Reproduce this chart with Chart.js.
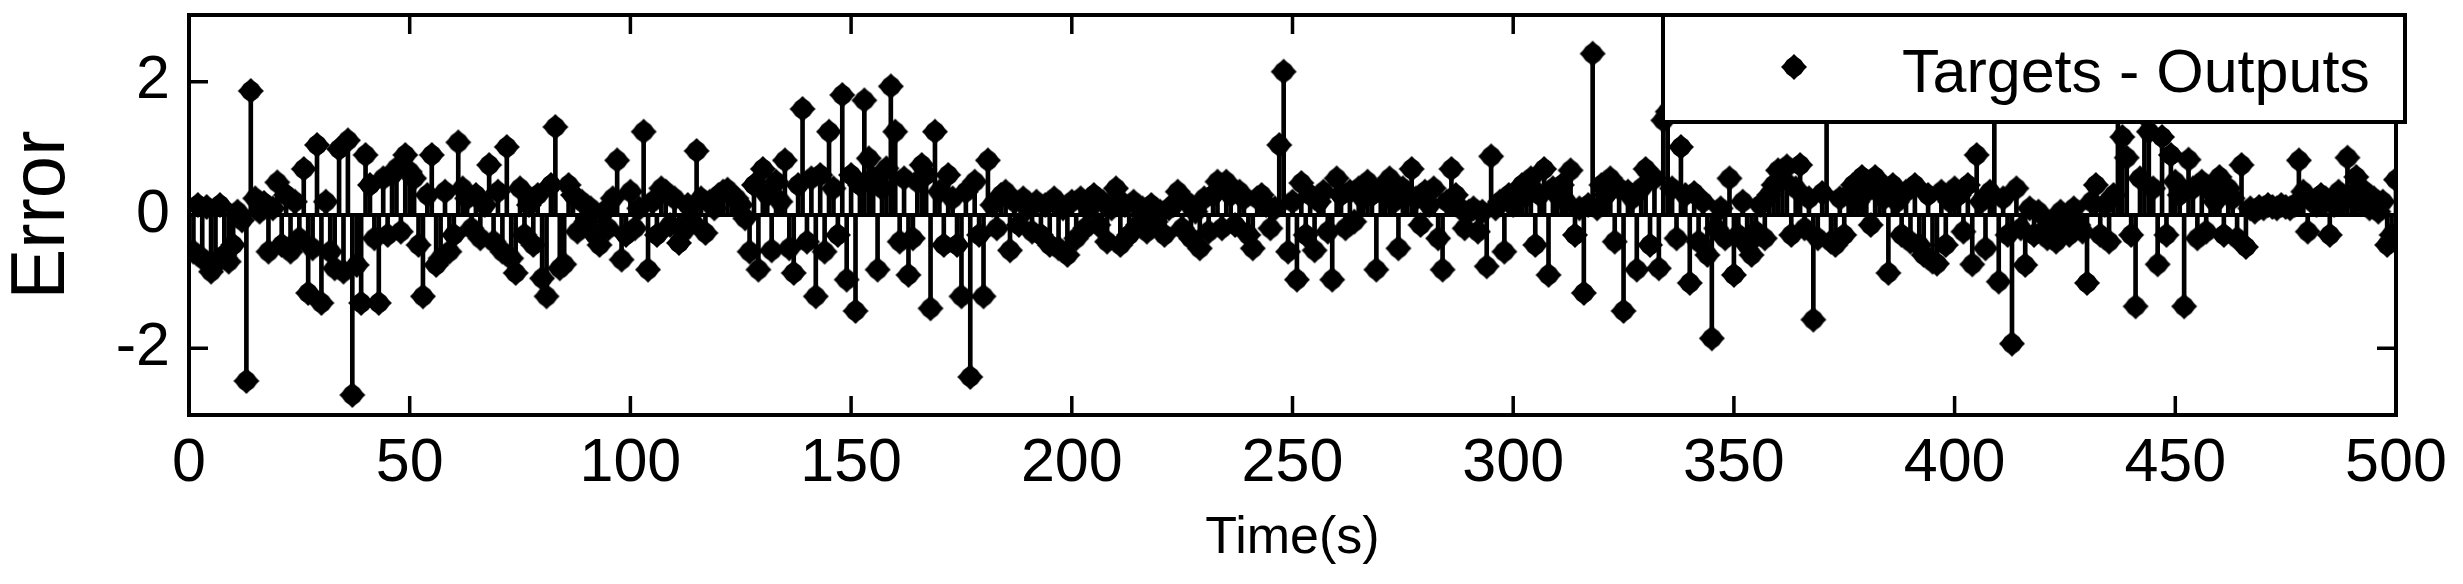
<!DOCTYPE html>
<html>
<head>
<meta charset="utf-8">
<title>Error</title>
<script src="https://cdn.jsdelivr.net/npm/chart.js@4.4.1/dist/chart.umd.min.js"></script>
<style>
  html, body { margin: 0; padding: 0; background: #fff; }
  #chart { display: block; }
</style>
</head>
<body>
<canvas id="chart" width="2463" height="584"></canvas>
<script>
// --- data (one value per second, t = 1..500) ---
const seriesLabel = "Targets - Outputs";
const xTitle = "Time(s)";
const yTitle = "Error";
const xTicks = [0, 50, 100, 150, 200, 250, 300, 350, 400, 450, 500];
const yTicks = [-2, 0, 2];
const firstTime = 1;

const errors = [
  -0.55, 0.15, -0.65, 0.12, -0.85, -0.72, 0.15, -0.60, -0.70, -0.45,
  0.05, -0.08, -2.49, 1.86, 0.25, 0.05, 0.18, -0.55, 0.10, 0.49,
  -0.45, 0.30, -0.55, 0.20, -0.35, 0.69, -1.17, -0.50, 1.05, -1.32,
  0.20, -0.55, -0.80, 0.99, -0.85, 1.12, -2.70, -0.75, -1.32, 0.90,
  0.45, -0.35, -1.32, 0.55, -0.30, 0.60, 0.70, -0.25, 0.90, 0.65,
  0.55, -0.45, -1.22, 0.30, 0.90, -0.75, -0.65, 0.35, -0.55, -0.30,
  1.09, 0.40, 0.25, -0.20, 0.30, -0.35, 0.15, 0.75, -0.40, 0.35,
  -0.55, 1.02, -0.65, -0.87, 0.40, -0.30, 0.15, -0.45, 0.30, -0.95,
  -1.22, 0.45, 1.32, -0.80, -0.74, 0.45, 0.30, -0.25, 0.20, -0.10,
  0.10, -0.30, -0.45, 0.05, -0.20, 0.25, 0.82, -0.67, -0.30, 0.35,
  -0.20, 0.10, 1.25, -0.82, 0.20, -0.30, 0.40, 0.35, -0.15, 0.25,
  -0.42, -0.25, 0.15, -0.10, 0.96, 0.25, -0.27, 0.20, 0.10, 0.30,
  0.35, 0.38, 0.30, 0.25, 0.15, -0.05, -0.55, 0.45, -0.82, 0.69,
  0.30, -0.53, 0.50, 0.20, 0.82, -0.50, -0.87, 0.45, 1.59, -0.40,
  0.55, -1.22, 0.60, -0.55, 1.25, 0.40, -0.30, 1.80, -0.97, 0.60,
  -1.44, 0.45, 1.72, 0.85, 0.55, -0.82, 0.40, 0.70, 1.93, 1.25,
  -0.40, 0.55, -0.90, -0.35, 0.50, 0.75, 0.60, -1.40, 1.25, 0.35,
  -0.45, 0.60, 0.25, -0.45, -1.22, 0.35, -2.43, 0.50, -0.30, -1.22,
  0.82, 0.15, -0.20, 0.30, 0.35, -0.53, 0.20, -0.15, 0.25, 0.10,
  -0.25, 0.20, -0.30, 0.15, -0.45, 0.25, -0.50, 0.10, -0.60, 0.20,
  -0.35, 0.25, -0.20, 0.10, 0.30, -0.15, 0.20, -0.40, 0.10, 0.40,
  -0.45, 0.15, -0.30, 0.20, -0.15, 0.10, -0.25, 0.15, -0.10, 0.05,
  -0.30, 0.10, 0.15, 0.35, -0.20, 0.20, -0.35, 0.05, -0.50, 0.25,
  -0.25, 0.30, 0.50, -0.20, 0.50, 0.30, -0.15, 0.35, 0.25, -0.30,
  -0.50, 0.25, 0.30, 0.15, -0.20, 0.10, 1.05, 2.15, -0.55, 0.20,
  -0.97, 0.48, -0.30, 0.30, -0.53, 0.20, 0.35, -0.25, -0.97, 0.55,
  0.30, -0.20, 0.35, -0.10, 0.40, 0.25, 0.50, 0.30, -0.82, 0.35,
  0.45, 0.55, 0.20, -0.50, 0.40, 0.30, 0.69, 0.25, -0.15, 0.35,
  0.15, 0.40, -0.35, -0.82, 0.20, 0.69, 0.30, 0.10, -0.20, 0.05,
  0.10, -0.25, 0.05, -0.77, 0.88, 0.10, 0.20, -0.55, 0.30, 0.15,
  0.35, 0.45, 0.30, 0.55, -0.45, 0.30, 0.69, -0.90, 0.40, 0.30,
  0.45, 0.20, 0.67, -0.30, 0.10, -1.17, 0.15, 2.42, 0.10, 0.45,
  0.30, 0.55, -0.40, 0.40, -1.44, 0.35, 0.25, -0.82, 0.40, 0.69,
  -0.45, 0.55, -0.80, 1.42, 1.55, 0.40, -0.35, 1.02, 0.30, -1.02,
  0.33, -0.40, 0.20, -0.60, -1.85, -0.20, 0.10, -0.35, 0.55, -0.90,
  -0.30, 0.20, -0.45, -0.60, -0.25, 0.15, -0.35, 0.30, 0.45, 0.67,
  0.55, 0.73, -0.30, 0.40, 0.75, -0.20, 0.25, -1.57, -0.35, 0.33,
  2.20, -0.40, -0.45, 0.25, -0.30, 0.30, 0.45, 0.20, 0.57, 0.35,
  -0.15, 0.57, 0.40, 0.25, -0.87, 0.45, 0.20, -0.30, 0.35, -0.40,
  0.45, -0.45, -0.60, 0.30, -0.70, -0.73, 0.35, -0.45, 0.20, 0.40,
  0.30, -0.25, 0.45, -0.74, 0.90, 0.20, -0.50, 0.35, 2.50, -1.00,
  0.25, -0.30, -1.93, 0.40, -0.20, -0.75, 0.10, -0.30, 0.05, -0.25,
  -0.35, -0.10, -0.40, 0.05, -0.20, -0.30, 0.10, -0.15, -0.25, -1.02,
  0.20, 0.45, -0.30, 0.15, -0.40, 0.30, 1.60, 1.17, 0.86, -0.30,
  -1.37, 0.55, 1.50, 1.25, 0.40, -0.74, 1.17, -0.30, 0.90, 0.50,
  0.30, -1.37, 0.83, 0.40, -0.35, 0.50, -0.25, 0.35, 0.20, 0.57,
  -0.30, 0.40, 0.25, -0.35, 0.75, -0.48, 0.10, 0.05, 0.12, 0.10,
  0.15, 0.12, 0.10, 0.15, 0.12, 0.10, 0.15, 0.82, 0.35, -0.25,
  0.20, 0.15, 0.30, 0.25, -0.30, 0.15, 0.35, 0.20, 0.86, 0.30,
  0.57, 0.20, 0.35, 0.10, 0.25, 0.05, 0.20, -0.45, -0.30, 0.53
];

const points = errors.map((e, i) => ({ x: firstTime + i, y: e }));
const baseline = [{ x: xTicks[0], y: 0 }, { x: xTicks[xTicks.length - 1], y: 0 }];

// --- marker: round blob with short pointed arms (like the MATLAB stem marker) ---
function makeMarker() {
  const c = document.createElement("canvas");
  c.width = 28;
  c.height = 28;
  const g = c.getContext("2d");
  g.fillStyle = "#000";
  g.beginPath();
  g.moveTo(14, 1);
  g.lineTo(27, 14);
  g.lineTo(14, 27);
  g.lineTo(1, 14);
  g.closePath();
  g.fill();
  g.beginPath();
  g.arc(14, 14, 10, 0, Math.PI * 2);
  g.fill();
  return c;
}
const marker = makeMarker();

Chart.defaults.font.family = "'Liberation Sans', Arial, sans-serif";
Chart.defaults.color = "#000";

// frame, inward ticks on all four sides, and the boxed legend
const framePlugin = {
  id: "frame",
  afterDraw(chart) {
    const { ctx, chartArea: a, scales } = chart;
    const tickLen = 19;
    ctx.save();
    ctx.strokeStyle = "#000";
    ctx.lineWidth = 3.5;
    ctx.beginPath();
    xTicks.forEach(v => {
      const px = scales.x.getPixelForValue(v);
      ctx.moveTo(px, a.bottom);
      ctx.lineTo(px, a.bottom - tickLen);
      ctx.moveTo(px, a.top);
      ctx.lineTo(px, a.top + tickLen);
    });
    yTicks.forEach(v => {
      const py = scales.y.getPixelForValue(v);
      ctx.moveTo(a.left, py);
      ctx.lineTo(a.left + tickLen, py);
      ctx.moveTo(a.right, py);
      ctx.lineTo(a.right - tickLen, py);
    });
    ctx.stroke();
    ctx.lineWidth = 4;
    ctx.strokeRect(a.left, a.top, a.right - a.left, a.bottom - a.top);

    // legend box (sits in the top right corner, a little past the axes)
    const lx = 1663, ly = a.top, lw = 742, lh = 107;
    ctx.fillStyle = "#fff";
    ctx.fillRect(lx, ly, lw, lh);
    ctx.strokeRect(lx, ly, lw, lh);
    ctx.drawImage(marker, 1794 - marker.width / 2, 67 - marker.height / 2);
    ctx.fillStyle = "#000";
    ctx.font = "61px 'Liberation Sans', Arial, sans-serif";
    ctx.textBaseline = "alphabetic";
    ctx.textAlign = "left";
    ctx.fillText(chart.data.datasets[0].label, 1902, 92);
    ctx.restore();
  }
};

new Chart(document.getElementById("chart"), {
  type: "bar",
  data: {
    datasets: [
      {
        type: "line",
        label: seriesLabel,
        data: points,
        showLine: false,
        pointStyle: marker,
        pointRadius: 13,
        pointHoverRadius: 13,
        order: 1
      },
      {
        type: "bar",
        label: "stems",
        data: points,
        backgroundColor: "#000",
        borderWidth: 0,
        barThickness: 4,
        order: 3
      },
      {
        type: "line",
        label: "baseline",
        data: baseline,
        borderColor: "#000",
        borderWidth: 4,
        pointRadius: 0,
        order: 2
      }
    ]
  },
  options: {
    responsive: false,
    devicePixelRatio: 1,
    animation: false,
    events: [],
    layout: { padding: { left: 0, top: 15, right: 67, bottom: 0 } },
    plugins: {
      legend: { display: false },
      tooltip: { enabled: false }
    },
    scales: {
      x: {
        type: "linear",
        min: 0,
        max: 500,
        offset: false,
        grid: { display: false, drawTicks: false },
        border: { display: false },
        ticks: {
          padding: 13,
          autoSkip: false,
          maxRotation: 0,
          font: { size: 61 }
        },
        title: {
          display: true,
          text: xTitle,
          font: { size: 52 },
          padding: { top: 0, bottom: 14 }
        },
        afterBuildTicks: s => { s.ticks = xTicks.map(v => ({ value: v })); },
        afterFit: s => {
          s.height = 169;
          s.paddingLeft = 0;
          s.paddingRight = 0;
        }
      },
      y: {
        type: "linear",
        min: -3,
        max: 3,
        grid: { display: false, drawTicks: false },
        border: { display: false },
        ticks: {
          padding: 19,
          font: { size: 61 }
        },
        title: {
          display: true,
          text: yTitle,
          font: { size: 76, lineHeight: 1.12 },
          padding: { top: 0, bottom: 0 }
        },
        afterBuildTicks: s => { s.ticks = yTicks.map(v => ({ value: v })); },
        afterFit: s => {
          s.width = 189;
          s.paddingTop = 0;
          s.paddingBottom = 0;
        }
      }
    }
  },
  plugins: [framePlugin]
});
</script>
</body>
</html>
